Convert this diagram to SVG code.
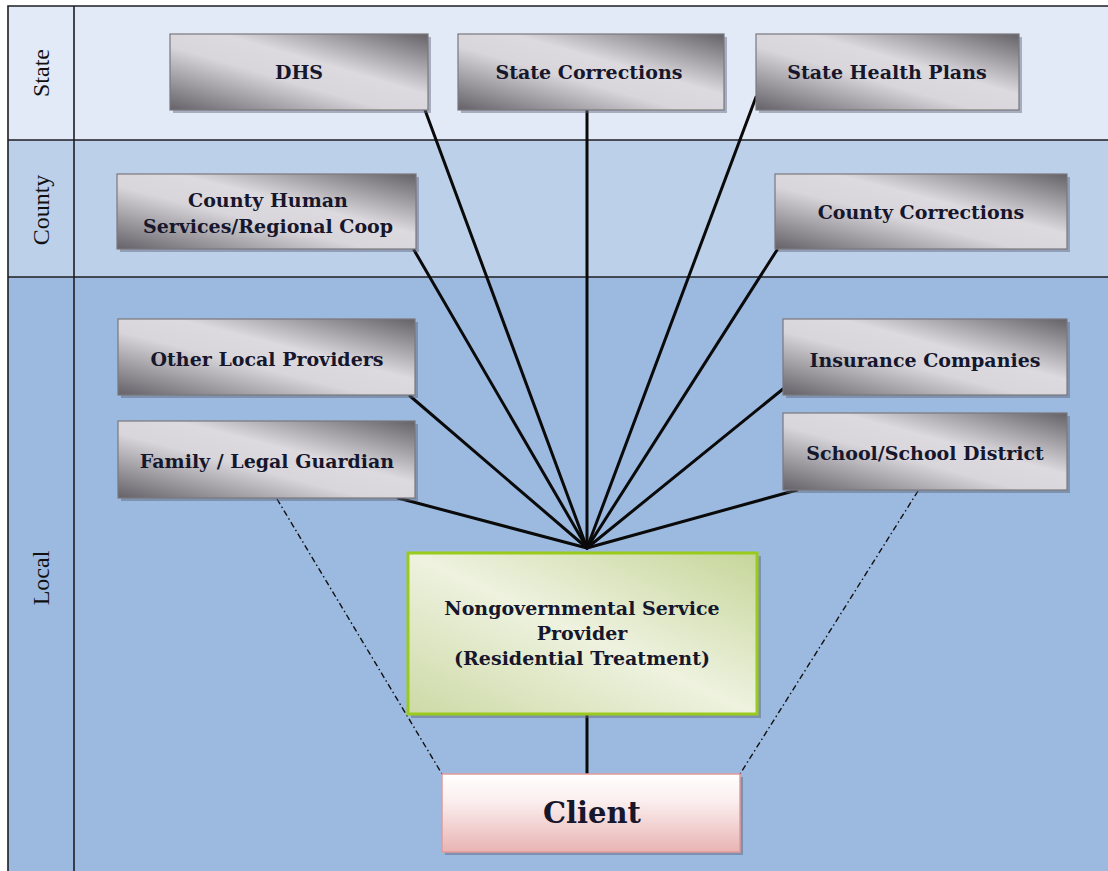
<svg xmlns="http://www.w3.org/2000/svg" width="1108" height="871" viewBox="0 0 1108 871">
<defs>
<linearGradient id="gray" x1="0" y1="1" x2="1" y2="0">
<stop offset="0" stop-color="#646268"/>
<stop offset="0.42" stop-color="#d8d6da"/>
<stop offset="0.6" stop-color="#dcdadf"/>
<stop offset="1" stop-color="#646267"/>
</linearGradient>
<linearGradient id="green" x1="0" y1="1" x2="1" y2="0">
<stop offset="0" stop-color="#cddaa6"/>
<stop offset="0.5" stop-color="#eef2df"/>
<stop offset="1" stop-color="#c6d69a"/>
</linearGradient>
<linearGradient id="pink" x1="0" y1="0" x2="0" y2="1">
<stop offset="0" stop-color="#ffffff"/>
<stop offset="0.35" stop-color="#fbeeee"/>
<stop offset="1" stop-color="#e9b3b3"/>
</linearGradient>
</defs>
<style>
.lane{stroke:none}
.frame{stroke:#1e1e24;stroke-width:1.6;fill:none}
.lanelbl{font-family:"Liberation Serif","Times New Roman",serif;font-size:24px;fill:#111}
.shadow{fill:#5a6478;opacity:0.45}
.box{fill:url(#gray);stroke:#7a787c;stroke-width:1.2}
.lbl{font-family:"DejaVu Serif","Liberation Serif",serif;font-weight:bold;font-size:19px;fill:#16162c;text-anchor:middle}
.conn{stroke:#0a0a0a;stroke-width:3;fill:none;stroke-linecap:round}
.dash{stroke:#111;stroke-width:1.4;fill:none;stroke-dasharray:6 3 1.5 3}
</style>
<rect x="0" y="0" width="1108" height="871" fill="#ffffff"/>
<g id="lanes">
<rect class="lane" x="8" y="6" width="1100" height="134" fill="#e3eaf7"/>
<rect class="lane" x="8" y="140" width="1100" height="137" fill="#bdd0ea"/>
<rect class="lane" x="8" y="277" width="1100" height="594" fill="#9cb9df"/>
<path class="frame" d="M8 871 V6 H1108 M8 140 H1108 M8 277 H1108 M74 6 V871"/>
<text class="lanelbl" transform="translate(49 73) rotate(-90)" text-anchor="middle">State</text>
<text class="lanelbl" transform="translate(49 210) rotate(-90)" text-anchor="middle">County</text>
<text class="lanelbl" transform="translate(49 578) rotate(-90)" text-anchor="middle">Local</text>
</g>
<g id="connectors">
<line class="conn" x1="425" y1="110" x2="587" y2="548"/>
<line class="conn" x1="587" y1="110" x2="587" y2="548"/>
<line class="conn" x1="756" y1="97" x2="587" y2="548"/>
<line class="conn" x1="414" y1="250" x2="587" y2="548"/>
<line class="conn" x1="777" y1="250" x2="587" y2="548"/>
<line class="conn" x1="410" y1="396" x2="587" y2="548"/>
<line class="conn" x1="398" y1="498" x2="587" y2="548"/>
<line class="conn" x1="783" y1="389" x2="587" y2="548"/>
<line class="conn" x1="797" y1="490" x2="587" y2="548"/>
<line class="conn" x1="587" y1="714" x2="587" y2="774"/>
<line class="dash" x1="277" y1="499" x2="442" y2="774"/>
<line class="dash" x1="918" y1="491" x2="740" y2="774"/>
</g>
<g id="dhs">
<rect class="shadow" x="173" y="37" width="258" height="76"/>
<rect class="box" x="170" y="34" width="258" height="76"/>
<text class="lbl" x="299" y="79">DHS</text>
</g>
<g id="state-corrections">
<rect class="shadow" x="461" y="37" width="266" height="76"/>
<rect class="box" x="458" y="34" width="266" height="76"/>
<text class="lbl" x="589" y="79">State Corrections</text>
</g>
<g id="state-health-plans">
<rect class="shadow" x="759" y="37" width="263" height="76"/>
<rect class="box" x="756" y="34" width="263" height="76"/>
<text class="lbl" x="887" y="79">State Health Plans</text>
</g>
<g id="county-human-services">
<rect class="shadow" x="120" y="177" width="299" height="75"/>
<rect class="box" x="117" y="174" width="299" height="75"/>
<text class="lbl" x="268" y="207">County Human</text>
<text class="lbl" x="268" y="233">Services/Regional Coop</text>
</g>
<g id="county-corrections">
<rect class="shadow" x="778" y="177" width="292" height="75"/>
<rect class="box" x="775" y="174" width="292" height="75"/>
<text class="lbl" x="921" y="219">County Corrections</text>
</g>
<g id="other-local-providers">
<rect class="shadow" x="121" y="322" width="297" height="76"/>
<rect class="box" x="118" y="319" width="297" height="76"/>
<text class="lbl" x="267" y="366">Other Local Providers</text>
</g>
<g id="family-legal-guardian">
<rect class="shadow" x="121" y="424" width="297" height="77"/>
<rect class="box" x="118" y="421" width="297" height="77"/>
<text class="lbl" x="267" y="468">Family / Legal Guardian</text>
</g>
<g id="insurance-companies">
<rect class="shadow" x="786" y="322" width="284" height="76"/>
<rect class="box" x="783" y="319" width="284" height="76"/>
<text class="lbl" x="925" y="367">Insurance Companies</text>
</g>
<g id="school-district">
<rect class="shadow" x="786" y="416" width="284" height="77"/>
<rect class="box" x="783" y="413" width="284" height="77"/>
<text class="lbl" x="925" y="460">School/School District</text>
</g>
<g id="nongovernmental-provider">
<rect class="shadow" x="411" y="556" width="350" height="162"/>
<rect x="408" y="553" width="349" height="161" fill="url(#green)" stroke="#9acb1c" stroke-width="3"/>
<text class="lbl" x="582" y="615">Nongovernmental Service</text>
<text class="lbl" x="582" y="640">Provider</text>
<text class="lbl" x="582" y="665">(Residential Treatment)</text>
</g>
<g id="client">
<rect class="shadow" x="445" y="777" width="298" height="78"/>
<rect x="442" y="774" width="298" height="78" fill="url(#pink)" stroke="#e29a9a" stroke-width="1.5"/>
<text class="lbl" x="592" y="823" style="font-size:29px">Client</text>
</g>
</svg>
